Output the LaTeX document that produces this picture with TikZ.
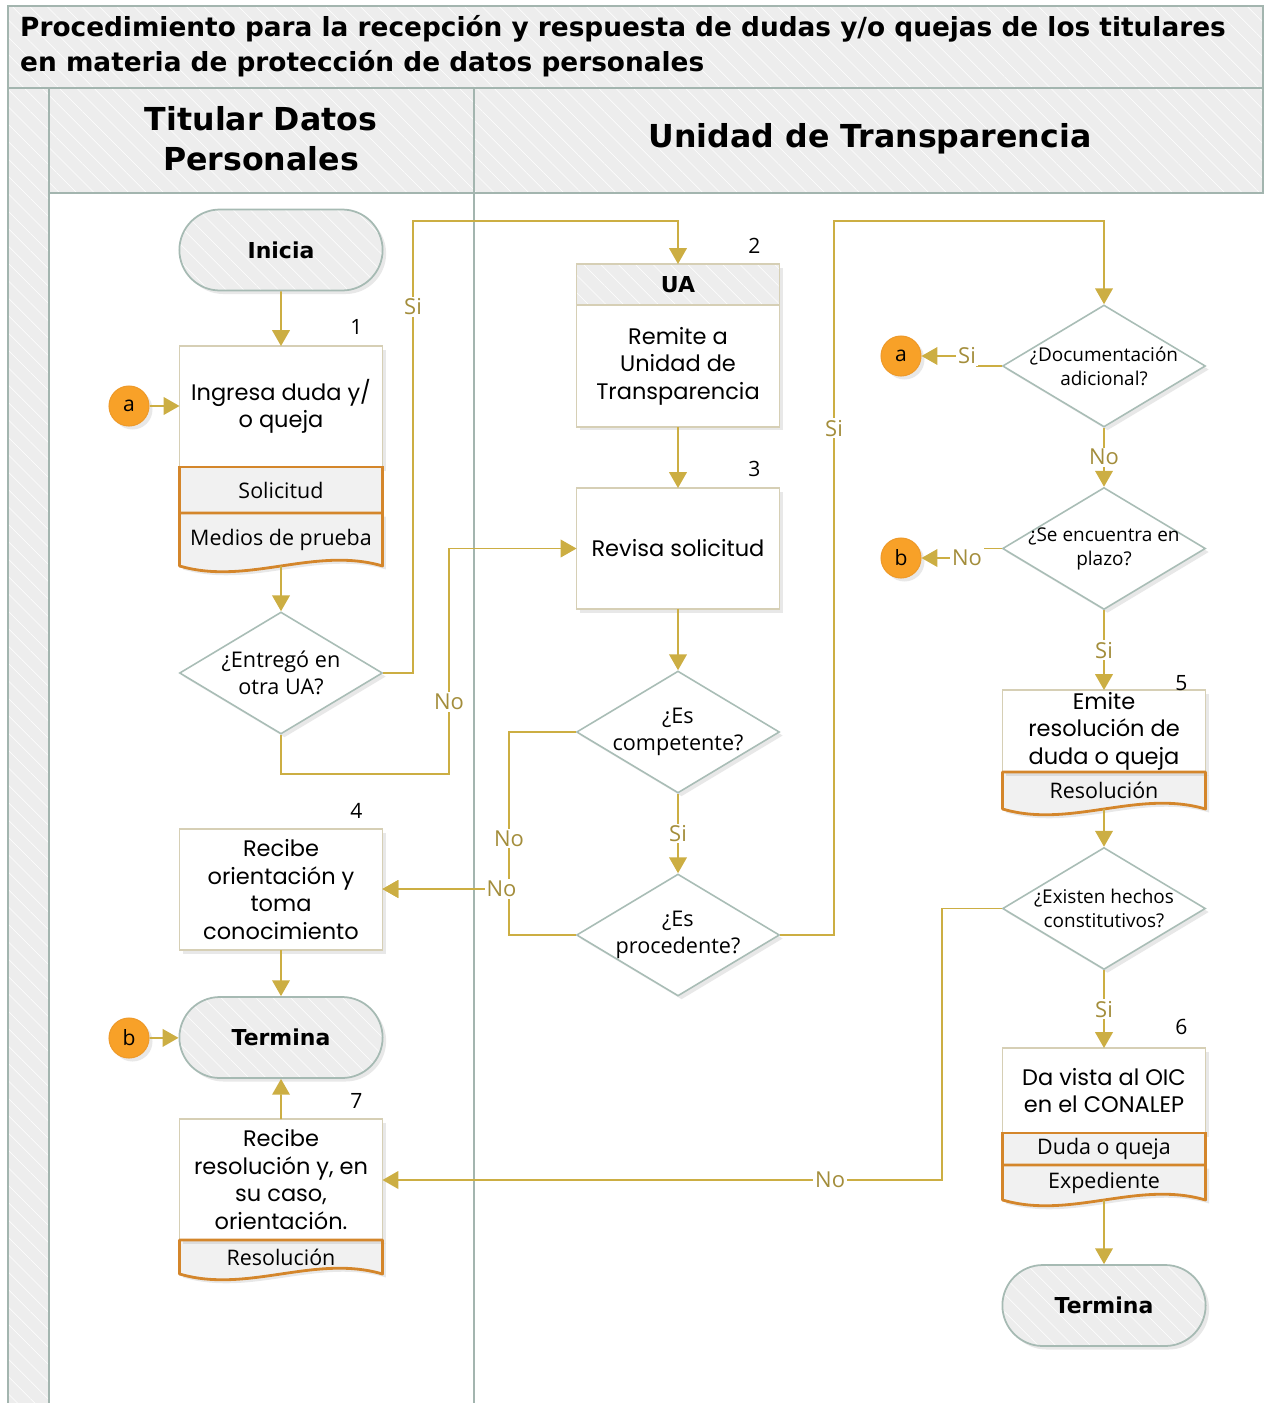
\documentclass[tikz,border=0pt]{standalone}
\usepackage{fontspec}
\setmainfont{Open Sans}
\newfontfamily\boxfont{Poppins}
\newfontfamily\headfont{DejaVu Sans}
\usepackage{tikz}
\usetikzlibrary{shapes.geometric, shapes.misc, arrows.meta, positioning, calc, patterns.meta, shadows, backgrounds}
\definecolor{lanegray}{HTML}{A3B5AF}
\definecolor{hdrgray}{HTML}{EDEDED}
\definecolor{termedge}{HTML}{A6BAB3}
\definecolor{boxedge}{HTML}{D6CFB5}
\definecolor{docedge}{HTML}{D4862B}
\definecolor{docfill}{HTML}{F1F1F1}
\definecolor{decedge}{HTML}{A9BDB6}
\definecolor{flowgold}{HTML}{CCAE43}
\definecolor{lblgold}{HTML}{A38D3B}
\definecolor{conorange}{HTML}{F8A128}
\definecolor{conedge}{HTML}{EE9A2A}

\begin{document}
\begin{tikzpicture}[
    x=0.02cm, y=-0.02cm,
    every node/.style={font=\fontsize{12}{14}\selectfont},
    soft/.style={drop shadow={opacity=0.18, shadow xshift=2pt, shadow yshift=-2pt}},
    hatch/.style={preaction={fill=hdrgray}, pattern={Lines[angle=-45, distance=7pt, line width=0.3pt]}, pattern color=white},
    lanebox/.style={draw=lanegray, line width=1.2pt, hatch},
    ttl/.style={align=left, font=\headfont\bfseries\fontsize{15}{20}\selectfont},
    hdr/.style={align=center, font=\headfont\bfseries\fontsize{18}{23}\selectfont},
    term/.style={rounded rectangle, minimum width=4.3cm, minimum height=1.62cm, draw=termedge, line width=1pt, soft, hatch, font=\headfont\bfseries\fontsize{12.5}{14}\selectfont},
    act/.style={rectangle, draw=boxedge, line width=0.8pt, fill=white, minimum width=4.06cm, minimum height=2.42cm, align=center, outer sep=0pt, inner sep=1pt, soft, font=\boxfont\fontsize{12.8}{15.6}\selectfont},
    docbox/.style={rectangle, draw=docedge, line width=1.6pt, fill=docfill, minimum width=4.06cm, outer sep=0pt, inner sep=1pt, font=\fontsize{12.2}{14}\selectfont},
    docwave/.style={rectangle, minimum width=4.06cm, outer sep=0pt, inner sep=1pt, font=\fontsize{12.2}{14}\selectfont},
    dec/.style={diamond, aspect=1.66, draw=decedge, line width=0.9pt, fill=white, minimum width=4.06cm, minimum height=2.44cm, inner sep=-8pt, align=center, soft, font=\fontsize{12.3}{15.3}\selectfont},
    decsmall/.style={dec, font=\fontsize{10.8}{13.6}\selectfont},
    con/.style={circle, fill=conorange, draw=conedge, line width=0.6pt, minimum size=0.8cm, inner sep=0pt, soft},
    arrow/.style={-{Triangle[length=9pt, width=10pt]}, draw=flowgold, line width=1pt},
    line/.style={draw=flowgold, line width=1pt},
    lbl/.style={fill=white, text=lblgold, inner sep=1pt, font=\fontsize{12.5}{14}\selectfont},
    num/.style={font=\fontsize{12}{14}\selectfont}
]
    \useasboundingbox (0,0) rectangle (1264,1403);

    % Pool and lanes
    \draw[lanebox] (8,6) rectangle (1263,88);
    \draw[lanebox] (8,88) rectangle (49,1410);
    \draw[lanebox] (49,88) rectangle (474,193);
    \draw[lanebox] (474,88) rectangle (1263,193);
    \draw[lanegray, line width=1.5pt] (474,193) -- (474,1410);
    \node[ttl, anchor=west] (title) at (14,46) {Procedimiento para la recepción y respuesta de dudas y/o quejas de los titulares\\en materia de protección de datos personales};
    \node[hdr] (lane1) at (261,139) {Titular Datos\\Personales};
    \node[hdr] (lane2) at (870,139) {Unidad de Transparencia};

    % Titular Datos Personales
    \node[term] (ini) at (281,250) {Inicia};
    \node[act] (b1) at (281,406.5) {Ingresa duda y/\\o queja};
    \node[docbox, minimum height=0.92cm, below=0pt of b1] (sol) {Solicitud};
    \node[docwave, minimum height=1.06cm, below=0pt of sol] (med) {Medios de prueba};
    \node[con] (ca) at (129,406) {a};
    \node[dec] (dEnt) at (281,673) {¿Entregó en\\otra UA?};
    \node[act] (b4) at (281,889.5) {Recibe\\orientación y\\toma\\conocimiento};
    \node[term] (tL) at (281,1037.5) {Termina};
    \node[con] (cb) at (129,1038) {b};
    \node[act] (b7) at (281,1179.5) {Recibe\\resolución y, en\\su caso,\\orientación.};
    \node[docwave, minimum height=0.68cm, below=0pt of b7] (res7) {Resolución};

    % Unidad de Transparencia
    \node[act, minimum height=0.82cm, hatch, font=\headfont\bfseries\fontsize{12.5}{14}\selectfont] (ua) at (678,284.5) {UA};
    \node[act, minimum height=2.44cm, below=0pt of ua] (b2) {Remite a\\Unidad de\\Transparencia};
    \node[act] (b3) at (678,548.5) {Revisa solicitud};
    \node[dec] (dComp) at (678,732) {¿Es\\competente?};
    \node[dec] (dProc) at (678,935) {¿Es\\procedente?};
    \node[decsmall] (dDoc) at (1104,366) {¿Documentación\\adicional?};
    \node[con] (ca2) at (901,356) {a};
    \node[decsmall] (dPlazo) at (1104,548.5) {¿Se encuentra en\\plazo?};
    \node[con] (cb2) at (901,558) {b};
    \node[act, minimum height=1.64cm, inner sep=0pt] (b5) at (1104,731) {Emite\\resolución de\\duda o queja};
    \node[docwave, minimum height=0.74cm, below=0pt of b5] (res5) {Resolución};
    \node[decsmall] (dHechos) at (1104,908.5) {¿Existen hechos\\constitutivos?};
    \node[act, minimum height=1.7cm] (b6) at (1104,1090.5) {Da vista al OIC\\en el CONALEP};
    \node[docbox, minimum height=0.64cm, below=0pt of b6] (dq) {Duda o queja};
    \node[docwave, minimum height=0.70cm, below=0pt of dq] (exp) {Expediente};
    \node[term] (tR) at (1104,1305.5) {Termina};

    % Document shapes
    \foreach \d in {med,res7,res5,exp}{
        \begin{scope}[on background layer]
            \fill[docfill, soft] (\d.north west) -- (\d.south west) .. controls +(68,20) and +(-68,-20) .. (\d.south east) -- (\d.north east) -- cycle;
        \end{scope}
        \draw[docedge, line width=1.6pt, line join=round] (\d.north west) -- (\d.south west) .. controls +(68,20) and +(-68,-20) .. (\d.south east) -- (\d.north east) -- cycle;
    }

    % Step numbers
    \node[num] (n1) at ($(b1.north east)+(-26,-19)$) {1};
    \node[num] (n2) at ($(ua.north east)+(-25,-18)$) {2};
    \node[num] (n3) at ($(b3.north east)+(-25,-19)$) {3};
    \node[num] (n4) at ($(b4.north east)+(-26,-18)$) {4};
    \node[num] (n5) at ($(b5.north east)+(-24,-7)$) {5};
    \node[num] (n6) at ($(b6.north east)+(-24,-21)$) {6};
    \node[num] (n7) at ($(b7.north east)+(-26,-18)$) {7};

    % Arrows
    \draw[arrow] (ini) -- (b1);
    \draw[arrow] (ca) -- (b1.west |- ca);
    \draw[arrow] (med.south) -- (dEnt);
    \draw[arrow] (dEnt.east) -- (413,673) -- node[lbl, pos=0.81] {Si} (413,221) -| (ua.north);
    \draw[arrow] (dEnt.south) -- (281,774) -- (449,774) -- node[lbl, pos=0.32] {No} (449,548.5) -- (b3.west);
    \draw[arrow] (b2) -- (b3);
    \draw[arrow] (b3) -- (dComp);
    \draw[arrow] (dComp) -- node[lbl] {Si} (dProc);
    \draw[arrow] (dComp.west) -- (509,732) -- node[lbl, pos=0.68] {No} (509,889) -- (b4.east |- 509,889);
    \draw[arrow] (dProc.west) -- (509,935) -- (509,889) -- node[lbl, pos=0.06] {No} (b4.east |- 509,889);
    \draw[arrow] (dProc.east) -- (834,935) -- node[lbl, pos=0.71] {Si} (834,221) -| (dDoc.north);
    \draw[arrow] (b4) -- (tL);
    \draw[arrow] (cb) -- (tL);
    \draw[arrow] (b7) -- (tL);
    \draw[arrow] (dDoc.west) -- (977,366) -- (977,356) -- node[lbl, pos=0.18] {Si} (ca2);
    \draw[arrow] (dDoc) -- node[lbl] {No} (dPlazo);
    \draw[arrow] (dPlazo.west) -- (983,548.5) -- (983,558) -- node[lbl, pos=0.26] {No} (cb2);
    \draw[arrow] (dPlazo) -- node[lbl] {Si} (b5);
    \draw[arrow] (res5.south) -- (dHechos);
    \draw[arrow] (dHechos) -- node[lbl] {Si} (b6);
    \draw[arrow] (dHechos.west) -- (942,908.5) -- (942,1180) -- node[lbl, pos=0.2] {No} (b7.east |- 942,1180);
    \draw[arrow] (exp.south) -- (tR);
\end{tikzpicture}
\end{document}
